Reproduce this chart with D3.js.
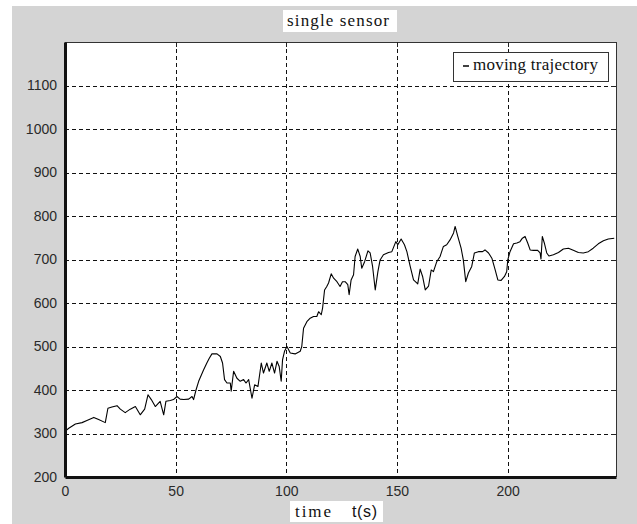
<!DOCTYPE html>
<html>
<head>
<meta charset="utf-8">
<script src="https://cdn.jsdelivr.net/npm/d3@7"></script>
<style>
  html, body { margin: 0; padding: 0; background: #ffffff; }
  svg { display: block; }
</style>
</head>
<body>
<svg id="chart" width="637" height="524"></svg>
<script>
// Sensor trajectory samples: time (s) and measured position
const times = [0, 1.7, 4.7, 7.7, 9.9, 13, 15.2, 18.2, 19.4, 21.2, 23.5, 25, 27.2, 29.5, 31.8, 34, 36, 37.5, 39, 40.8, 43, 44.6, 45.6, 47.6, 49,
  50.6, 52, 53.6, 55.9, 57.4, 58.1, 59.2, 60.4, 62.6, 64.1, 65.2, 66.4, 68.7, 70.2, 71.2, 72.1, 73.2, 74.7, 75.1, 76.2, 77.7, 79.2, 80.7, 81.8, 83, 84.5, 85.7, 87.2, 88.7, 89.7, 91.2, 92.3, 93.5, 94.7, 95.8, 96.8, 97.7, 98.3, 99.2,
  100.3, 101.8, 104, 106.3, 107, 107.8, 109.3, 110.8, 112.3, 113.8, 114.6, 115.8, 116.4, 117.3, 118.3, 119.1, 120.3, 121.4, 122.9, 124.3, 125.4, 126.6, 127.8, 128.4, 129.3, 130.4, 131.1, 132.3, 133.4, 134.1, 135.4, 136.9, 137.9, 139, 140.2, 141.4, 142.4, 143.9, 146.2, 147.7, 149.5,
  150.4, 151.9, 153.4, 154.5, 156, 157.5, 159.4, 160.5, 161.6, 162.8, 164.3, 165.5, 166.5, 168, 169.5, 171, 172.5, 174, 175.6, 176.3, 177.5, 179, 180, 181.1, 182.3, 183.8, 185, 186.8, 188.7, 189.8, 191.4, 192.9, 194.4, 195.6, 197.1, 198.6, 199.6,
  200.1, 201.1, 202.7, 204.2, 205.6, 206.7, 207.9, 209.1, 210.2, 211.7, 213.6, 214.7, 215.1, 215.7, 216.6, 217.7, 218.7, 220.7, 223, 225.2, 227.5, 229.7, 232, 234.2, 236.5, 238.7, 241, 243.3, 245.5, 248.2];
const positions = [305, 312, 322, 325, 330, 337, 332, 325, 358, 361, 364, 356, 348, 356, 362, 343, 356, 389, 378, 362, 374, 343, 374, 376, 378,
  385, 379, 378, 379, 385, 378, 400, 420, 446, 462, 473, 483, 483, 477, 462, 424, 416, 416, 397, 443, 427, 420, 424, 416, 424, 381, 412, 408, 462, 439, 462, 443, 462, 439, 466, 454, 420, 469, 489,
  500, 485, 483, 489, 500, 542, 557, 565, 569, 569, 580, 573, 588, 630, 638, 646, 667, 657, 649, 638, 649, 649, 642, 619, 653, 665, 707, 724, 707, 680, 695, 720, 715, 684, 630, 672, 699, 711, 716, 718, 741,
  734, 747, 734, 718, 684, 653, 644, 678, 661, 630, 639, 676, 672, 695, 707, 730, 734, 745, 761, 776, 753, 726, 699, 649, 669, 684, 715, 718, 718, 722, 715, 703, 676, 653, 652, 661, 672,
  699, 718, 736, 738, 741, 749, 753, 738, 722, 721, 721, 715, 701, 753, 738, 715, 708, 711, 716, 724, 726, 721, 716, 715, 718, 726, 736, 743, 747, 749];

const xTicks = [0, 50, 100, 150, 200];
const yTicks = [200, 300, 400, 500, 600, 700, 800, 900, 1000, 1100];
const titleText = "single sensor";
const legendText = "moving trajectory";

const svg = d3.select("#chart");
const W = 637, H = 524;
const plot = { left: 65, top: 42, right: 616, bottom: 477 };
const serif = "Liberation Serif, Times New Roman, serif";
const sans = "Liberation Sans, Arial, sans-serif";

// figure background
svg.append("rect").attr("x", 12).attr("y", 6).attr("width", W - 12).attr("height", H - 6).attr("fill", "#d4d4d4");

const x = d3.scaleLinear().domain([0, 249]).range([plot.left, plot.right]);
const y = d3.scaleLinear().domain([200, 1200]).range([plot.bottom, plot.top]);

// plot area
svg.append("rect")
  .attr("x", plot.left).attr("y", plot.top)
  .attr("width", plot.right - plot.left).attr("height", plot.bottom - plot.top)
  .attr("fill", "#ffffff");

// grid lines
const grid = svg.append("g").attr("stroke", "#111").attr("stroke-width", 1).attr("stroke-dasharray", "4,3");
grid.selectAll("line.v").data(xTicks.filter(d => d > 0)).join("line")
  .attr("x1", d => Math.round(x(d)) + 0.5).attr("x2", d => Math.round(x(d)) + 0.5)
  .attr("y1", plot.top).attr("y2", plot.bottom);
grid.selectAll("line.h").data(yTicks.filter(d => d > 200)).join("line")
  .attr("y1", d => Math.round(y(d)) + 0.5).attr("y2", d => Math.round(y(d)) + 0.5)
  .attr("x1", plot.left).attr("x2", plot.right);

// trajectory
const data = times.map((t, i) => ({ t, v: positions[i] }));
svg.append("path")
  .datum(data)
  .attr("fill", "none")
  .attr("stroke", "#000")
  .attr("stroke-width", 1.1)
  .attr("stroke-linejoin", "round")
  .attr("d", d3.line().x(d => x(d.t)).y(d => y(d.v)));

// box edges
svg.append("line").attr("x1", plot.left).attr("x2", plot.right).attr("y1", plot.top + 0.5).attr("y2", plot.top + 0.5)
  .attr("stroke", "#333").attr("stroke-width", 1);
svg.append("line").attr("x1", plot.right + 0.5).attr("x2", plot.right + 0.5).attr("y1", plot.top).attr("y2", plot.bottom)
  .attr("stroke", "#333").attr("stroke-width", 1);

// bottom axis
const xAxis = d3.axisBottom(x).tickValues(xTicks).tickSize(0).tickPadding(9).tickFormat(d3.format("d"));
const gx = svg.append("g").attr("transform", `translate(0,${plot.bottom})`).call(xAxis);
gx.select(".domain").attr("stroke", "#111").attr("stroke-width", 3);
gx.selectAll("text").attr("font-family", sans).attr("font-size", 14).attr("fill", "#2a2a2a");

// left axis
const yAxis = d3.axisLeft(y).tickValues(yTicks).tickSize(0).tickPadding(8).tickFormat(d3.format("d"));
const gy = svg.append("g").attr("transform", `translate(${plot.left},0)`).call(yAxis);
gy.select(".domain").attr("stroke", "#111").attr("stroke-width", 3);
gy.selectAll("text").attr("font-family", sans).attr("font-size", 14).attr("fill", "#2a2a2a");

// small tick marks on the top and right edges
svg.append("g").selectAll("line").data(xTicks.filter(d => d > 0)).join("line")
  .attr("x1", d => Math.round(x(d)) + 0.5).attr("x2", d => Math.round(x(d)) + 0.5)
  .attr("y1", plot.top).attr("y2", plot.top + 5).attr("stroke", "#222");
svg.append("g").selectAll("line").data(yTicks.filter(d => d > 200)).join("line")
  .attr("y1", d => Math.round(y(d)) + 0.5).attr("y2", d => Math.round(y(d)) + 0.5)
  .attr("x1", plot.right - 5).attr("x2", plot.right).attr("stroke", "#222");

// title
const title = svg.append("g");
title.append("rect").attr("x", 283).attr("y", 10).attr("width", 114).attr("height", 22).attr("fill", "#fff");
title.append("text").attr("x", 287).attr("y", 26)
  .attr("font-family", serif).attr("font-size", 17).attr("fill", "#111")
  .attr("textLength", 102).attr("lengthAdjust", "spacing")
  .text(titleText);

// legend
const legend = svg.append("g");
legend.append("rect").attr("x", 453.5).attr("y", 52.5).attr("width", 155).attr("height", 29)
  .attr("fill", "#fff").attr("stroke", "#333").attr("stroke-width", 1);
legend.append("line").attr("x1", 463).attr("x2", 469).attr("y1", 66).attr("y2", 66).attr("stroke", "#000").attr("stroke-width", 1.5);
legend.append("text").attr("x", 473).attr("y", 70)
  .attr("font-family", serif).attr("font-size", 17).attr("fill", "#111")
  .attr("textLength", 125).attr("lengthAdjust", "spacing")
  .text(legendText);

// x-axis label
const xl = svg.append("g");
xl.append("rect").attr("x", 290).attr("y", 501).attr("width", 93).attr("height", 21).attr("fill", "#fff");
xl.append("text").attr("x", 295).attr("y", 517)
  .attr("font-family", serif).attr("font-size", 17).attr("fill", "#111")
  .attr("textLength", 36).attr("lengthAdjust", "spacing")
  .text("time");
xl.append("text").attr("x", 352).attr("y", 517)
  .attr("font-family", sans).attr("font-size", 16).attr("fill", "#111")
  .attr("textLength", 25).attr("lengthAdjust", "spacing")
  .text("t(s)");
</script>
</body>
</html>
